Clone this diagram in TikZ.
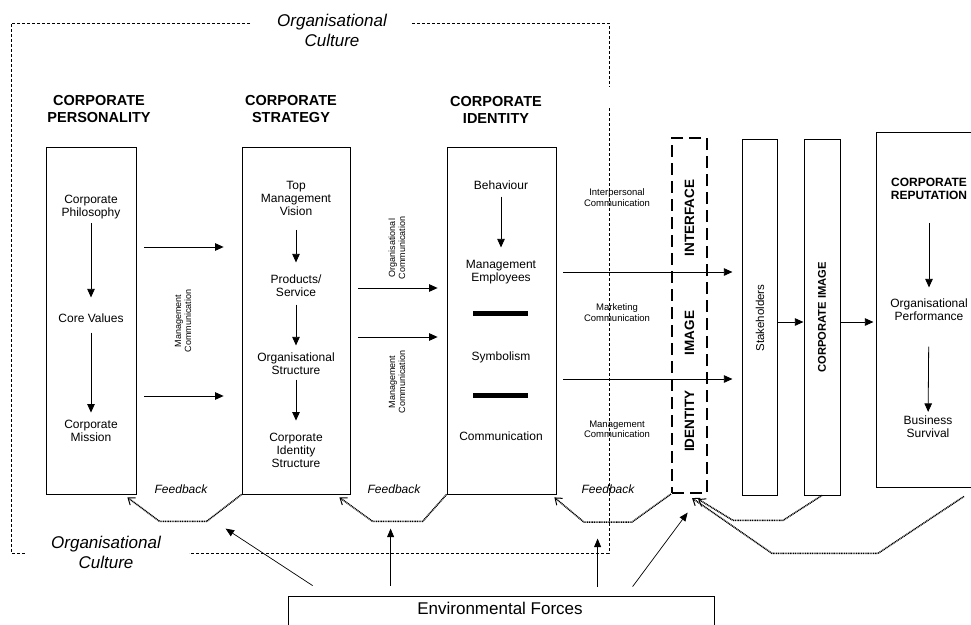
\documentclass[tikz,border=0pt]{standalone}
\usepackage{fontspec}
\setmainfont{Liberation Sans}
\usetikzlibrary{arrows.meta,calc}
\begin{document}
\begin{tikzpicture}[x=1pt,y=-1pt,
  box/.style={draw, line width=0.8pt, inner sep=0pt},
  txt/.style={align=center, inner sep=1pt, font=\fontsize{12}{13}\selectfont},
  ttl/.style={align=center, inner sep=1pt, font=\bfseries\fontsize{14.5}{17}\selectfont},
  rtl/.style={align=center, inner sep=1pt, font=\bfseries\fontsize{12}{13}\selectfont},
  small/.style={align=center, inner sep=1pt, font=\fontsize{9}{10}\selectfont},
  smallr/.style={align=center, inner sep=1pt, font=\fontsize{9.5}{10.5}\selectfont},
  vbold/.style={rotate=90, inner sep=1pt, font=\bfseries\fontsize{13.5}{15}\selectfont},
  arr/.style={-{Triangle[length=8.5pt,width=7.5pt]}, line width=0.8pt},
  arrthin/.style={-{Triangle[length=8.5pt,width=7pt]}, line width=0.7pt},
  fb/.style={line width=1.5pt, dash pattern=on 1pt off 0.7pt, -{Straight Barb[length=6pt,width=9pt,line width=1pt]}},
  org/.style={line width=0.8pt, dash pattern=on 3pt off 2pt},
  fbl/.style={inner sep=1pt, font=\itshape\fontsize{12}{14}\selectfont},
  oc/.style={align=center, inner sep=1pt, font=\itshape\fontsize{17}{20}\selectfont},
]
\useasboundingbox (0,0) rectangle (971,624);
\clip (0,0) rectangle (971,624);

% organisational culture frame
\node[oc] (octop) at (332,30) {Organisational\\Culture};
\node[oc] (ocbot) at (106,552) {Organisational\\Culture};
\draw[org] (250,23) -- (11,23) -- (11,553) -- (25,553);
\draw[org] (412,23) -- (609,23) -- (609,87);
\draw[org] (609,108) -- (609,553) -- (189,553);

% main boxes
\node[box, minimum width=90pt, minimum height=347pt] (pers) at (91,320.5) {};
\node[box, minimum width=108pt, minimum height=347pt] (strat) at (296,320.5) {};
\node[box, minimum width=109pt, minimum height=347pt] (ident) at (501.5,320.5) {};
\node[draw, line width=2.2pt, dash pattern=on 12pt off 6pt, minimum width=35pt, minimum height=355pt, inner sep=0pt] (intf) at (689.5,315.5) {};
\node[box, minimum width=35pt, minimum height=356pt] (stake) at (759.5,317) {};
\node[box, minimum width=36pt, minimum height=356pt] (img) at (822,317) {};
\node[box, minimum width=124pt, minimum height=355pt] (rep) at (938,309.5) {};
\node[box, minimum width=426pt, minimum height=54pt] (env) at (501,623) {};
\node[inner sep=1pt, font=\fontsize{17}{20}\selectfont] (envt) at (500,608) {Environmental Forces};

% titles
\node[ttl] (tpers) at (99,109.5) {CORPORATE\\PERSONALITY};
\node[ttl] (tstrat) at (291,109.5) {CORPORATE\\STRATEGY};
\node[ttl] (tident) at (496,109.5) {CORPORATE\\IDENTITY};

% personality
\node[txt] (phil) at (91,207) {Corporate\\Philosophy};
\node[txt] (core) at (91,318) {Core Values};
\node[txt] (miss) at (91,430.5) {Corporate\\Mission};
\draw[arr, shorten <=3pt, shorten >=15pt] (phil) -- (core);
\draw[arr, shorten <=9pt, shorten >=6pt] (core) -- (miss);

% strategy
\node[txt] (vis) at (296,198.5) {Top\\Management\\Vision};
\node[txt] (prod) at (296,285.5) {Products/\\Service};
\node[txt] (struc) at (296,363.5) {Organisational\\Structure};
\node[txt] (cis) at (296,450) {Corporate\\Identity\\Structure};
\draw[arr, shorten <=13pt, shorten >=11pt] (vis) -- (prod);
\draw[arr, shorten <=7pt, shorten >=6pt] (prod) -- (struc);
\draw[arr, shorten <=4pt, shorten >=11pt] (struc) -- (cis);

% identity
\node[txt] (beh) at (501,185) {Behaviour};
\node[txt] (memp) at (501,272.5) {Management\\Employees};
\node[fill, minimum width=55pt, minimum height=5pt, inner sep=0pt] (bar1) at (500.5,313) {};
\node[txt] (sym) at (501,357) {Symbolism};
\node[fill, minimum width=55pt, minimum height=5pt, inner sep=0pt] (bar2) at (500.5,395) {};
\node[txt] (comm) at (501,436) {Communication};
\draw[arr, shorten <=6pt, shorten >=12pt] (beh) -- (memp);

% reputation
\node[rtl] (rept) at (929,189) {CORPORATE\\REPUTATION};
\node[txt] (perf) at (929,309.5) {Organisational\\Performance};
\node[txt] (surv) at (928,427) {Business\\Survival};
\draw[arr, shorten <=22pt, shorten >=10pt] (rept) -- (perf);
\draw[arr, shorten <=25pt, shorten >=3pt] (perf) -- (surv);

% vertical labels
\node[small, rotate=90] (mc1) at (183,321) {Management\\Communication};
\node[small, rotate=90] (oc2) at (397,248) {Organisational\\Communication};
\node[small, rotate=90] (mc2) at (397,382) {Management\\Communication};
\node[vbold] (lint) at (689.5,218) {INTERFACE};
\node[vbold] (limg) at (689.5,333) {IMAGE};
\node[vbold] (lid) at (689.5,421) {IDENTITY};
\node[rotate=90, inner sep=1pt, font=\fontsize{11.5}{13}\selectfont] (lst) at (760,318) {Stakeholders};
\node[rotate=90, inner sep=1pt, font=\bfseries\fontsize{11.2}{13}\selectfont] (lci) at (822,317.5) {CORPORATE IMAGE};

% right small labels
\node[smallr] (ipc) at (617,197.5) {Interpersonal\\Communication};
\node[smallr] (mkc) at (617,312.5) {Marketing\\Communication};
\node[smallr] (mgc) at (617,429.5) {Management\\Communication};

% horizontal arrows
\draw[arr, shorten <=8pt, shorten >=18pt] ([yshift=73.5pt]pers.east) -- ([yshift=73.5pt]strat.west);
\draw[arr, shorten <=8pt, shorten >=18pt] ([yshift=-75.5pt]pers.east) -- ([yshift=-75.5pt]strat.west);
\draw[arr, shorten <=8pt, shorten >=9pt] ([yshift=32.5pt]strat.east) -- ([yshift=32.5pt]ident.west);
\draw[arr, shorten <=8pt, shorten >=9pt] ([yshift=-16.5pt]strat.east) -- ([yshift=-16.5pt]ident.west);
\draw[arr, shorten <=7pt] ([yshift=48.5pt]ident.east) -- ++(176,0);
\draw[arr, shorten <=7pt] ([yshift=-58.5pt]ident.east) -- ++(176,0);
\draw[arr] ([yshift=-5pt]stake.east) -- ++(26,0);
\draw[arr] ([yshift=-5pt]img.east) -- ++(33,0);

% feedback loops
\node[fbl] (fb1) at (181,489) {Feedback};
\node[fbl] (fb2) at (394,489) {Feedback};
\node[fbl] (fb3) at (608,489) {Feedback};
\draw[fb] (strat.south west) -- ++(-35,27) -- ++(-47,0) -- ([shift={(-9,3)}]pers.south east);
\draw[fb] (ident.south west) -- ++(-24,27) -- ++(-50,0) -- ([shift={(-11,3)}]strat.south east);
\draw[fb] (intf.south west) -- ++(-39,28) -- ++(-48,0) -- ([shift={(-2,3)}]ident.south east);
\draw[fb] (img.south) -- ++(-39,25) -- ++(-50,0) -- ([shift={(-10,5)}]intf.south east);
\draw[fb] ([shift={(26,9)}]rep.south) -- ++(-86,57) -- ++(-106,0) -- ([shift={(-16,4)}]intf.south east);

% environmental forces arrows
\draw[arrthin] ([shift={(25,-10)}]env.north west) -- ++(-87,-57);
\draw[arrthin] ([shift={(103,-10)}]env.north west) -- ++(0,-57);
\draw[arrthin] ([shift={(310,-9)}]env.north west) -- ++(0,-48);
\draw[arrthin] ([shift={(345,-9)}]env.north west) -- ++(55,-74);
\end{tikzpicture}
\end{document}
